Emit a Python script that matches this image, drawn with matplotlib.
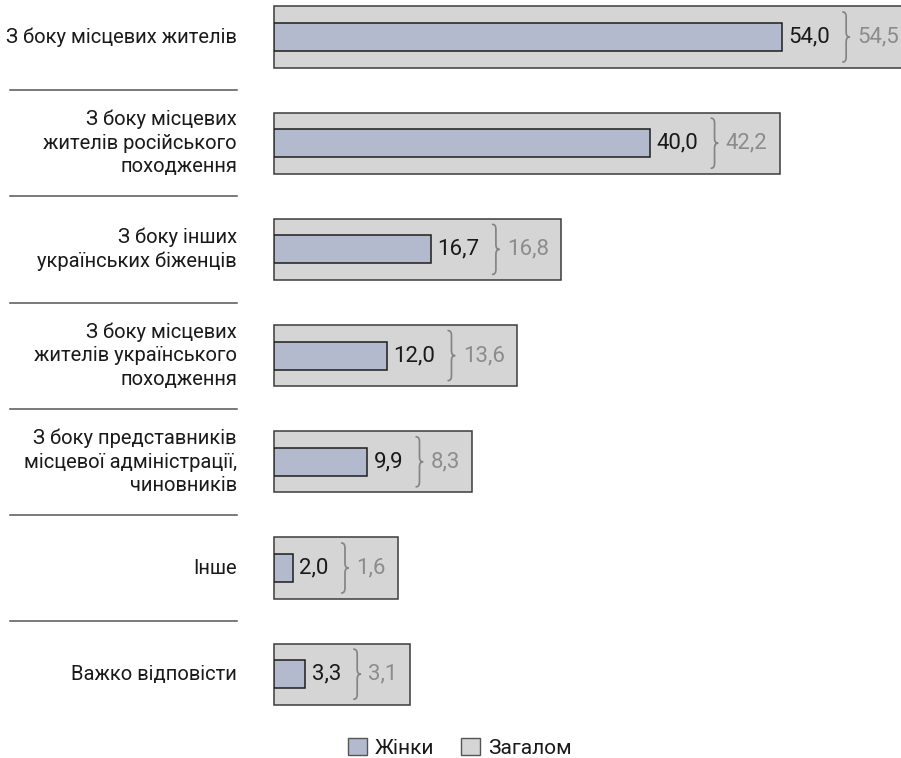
import matplotlib
matplotlib.use("Agg")
import matplotlib.pyplot as plt
from matplotlib.patches import Patch, PathPatch
from matplotlib.path import Path
from matplotlib import transforms

plt.rcParams["font.family"] = ["Roboto", "DejaVu Sans"]

categories = [
    "З боку місцевих жителів",
    "З боку місцевих\nжителів російського\nпоходження",
    "З боку інших\nукраїнських біженців",
    "З боку місцевих\nжителів українського\nпоходження",
    "З боку представників\nмісцевої адміністрації,\nчиновників",
    "Інше",
    "Важко відповісти",
]
women = [54.0, 40.0, 16.7, 12.0, 9.9, 2.0, 3.3]
total = [54.5, 42.2, 16.8, 13.6, 8.3, 1.6, 3.1]
series_names = ["Жінки", "Загалом"]

BLUE = "#b4bacd"
GREY = "#d5d5d5"
EDGE_OUT = "#3c3c3c"
EDGE_IN = "#1e1e1e"
TXT = "#1a1a1a"
TXT_GREY = "#8c8c8c"

W, H, DPI = 901, 758, 100
fig = plt.figure(figsize=(W / DPI, H / DPI), dpi=DPI)

x0_px = 274
px_per_unit = 9.4
row_px = 106.2
first_px = 37

ax = fig.add_axes([x0_px / W, 0, (W - x0_px) / W, 1])
ax.set_xlim(0, (W - x0_px) / px_per_unit)
ax.set_ylim((H - first_px) / row_px, -first_px / row_px)
ax.axis("off")

ys = list(range(len(categories)))

def fmt(v):
    return f"{v:.1f}".replace(".", ",")

# inner bars (women) and their value labels
ax.barh(ys, women, height=0.265, color=BLUE, edgecolor=EDGE_IN, linewidth=1.1, zorder=3)

fig.canvas.draw()
renderer = fig.canvas.get_renderer()

val_fs = 16
to_pt = 72 / DPI
w_labels = []
for y, v in zip(ys, women):
    t = ax.annotate(fmt(v), xy=(v, y), xytext=(6.5 * to_pt, 0), textcoords="offset points",
                    ha="left", va="center", fontsize=val_fs, color=TXT, zorder=4)
    w_labels.append(t)

fig.canvas.draw()
box_right_units = []
brace_w = 3.3
brace_h = 25
for y, v, t in zip(ys, total, w_labels):
    bb = t.get_window_extent(renderer)
    bx = bb.x1 + 13
    cy = ax.transData.transform((0, y))[1]
    verts = [
        (bx, cy + brace_h),
        (bx + brace_w, cy + brace_h), (bx + brace_w, cy + brace_h - 5),
        (bx + brace_w, cy + 5),
        (bx + brace_w, cy), (bx + 2 * brace_w, cy),
        (bx + brace_w, cy), (bx + brace_w, cy - 5),
        (bx + brace_w, cy - brace_h + 5),
        (bx + brace_w, cy - brace_h), (bx, cy - brace_h),
    ]
    codes = [Path.MOVETO, Path.CURVE3, Path.CURVE3, Path.LINETO,
             Path.CURVE3, Path.CURVE3, Path.CURVE3, Path.CURVE3,
             Path.LINETO, Path.CURVE3, Path.CURVE3]
    fig.add_artist(PathPatch(Path(verts, codes), transform=None, fill=False,
                             edgecolor="#858585", linewidth=1.25, zorder=5,
                             capstyle="round", joinstyle="round"))
    tx = bx + 2 * brace_w + 8
    tt = fig.text(tx / W, cy / H, fmt(v), ha="left", va="center",
                  fontsize=val_fs, color=TXT_GREY, zorder=5)
    tb = tt.get_window_extent(renderer)
    box_right_units.append((tb.x1 + 12 - x0_px) / px_per_unit)

# outer containers (overall)
ax.barh(ys, box_right_units, height=0.575, color=GREY, edgecolor=EDGE_OUT,
        linewidth=1.1, zorder=2, clip_on=False)

# category labels and separators on the left
lab_tr = transforms.blended_transform_factory(fig.transFigure, ax.transData)
for y, c in zip(ys, categories):
    ax.text(237 / W, y, c, transform=lab_tr, ha="right", va="center",
            fontsize=14.5, color=TXT, linespacing=1.3, multialignment="right")
for y in ys[:-1]:
    ax.plot([10 / W, 237 / W], [y + 0.5, y + 0.5], transform=lab_tr,
            color="#555555", linewidth=1.1, clip_on=False)

handles = [Patch(facecolor=BLUE, edgecolor="#555555", linewidth=1.0),
           Patch(facecolor=GREY, edgecolor="#555555", linewidth=1.0)]
fig.legend(handles, series_names, loc="center", bbox_to_anchor=(460 / W, 1 - 748 / H),
           ncol=2, frameon=False, fontsize=15, handlelength=0.9, handleheight=0.9,
           handletextpad=0.4, columnspacing=1.3, labelcolor=TXT)

fig.savefig("out.png", dpi=DPI)
